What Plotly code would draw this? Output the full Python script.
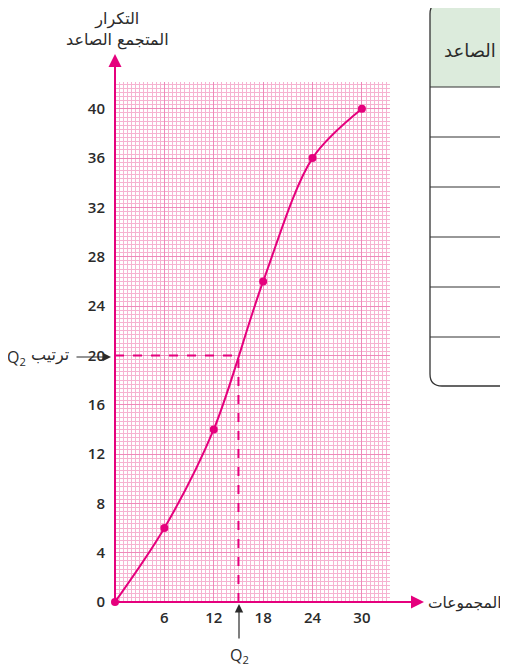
import plotly.graph_objects as go

# ---- data ----
upper_bounds = [0, 6, 12, 18, 24, 30]
cum_freq = [0, 6, 14, 26, 36, 40]
x_ticks = [6, 12, 18, 24, 30]
y_ticks = [0, 4, 8, 12, 16, 20, 24, 28, 32, 36, 40]
q2_rank = 20
q2_value = 15

MAG = "#e5007d"
DARK = "#2b2b2b"
OFF = 8  # default body margin of the html page
W, H = 508 - OFF, 669 - OFF
# plot area in page pixels
L, R, T, B = 115, 390, 82, 602


def xp(px):
    return (px - L) / (R - L)


def yp(py):
    return (B - py) / (B - T)


fig = go.Figure()

fig.add_trace(go.Scatter(
    x=upper_bounds, y=cum_freq, mode="lines+markers",
    line=dict(color=MAG, width=2, shape="spline", smoothing=0.9),
    marker=dict(color=MAG, size=8),
    cliponaxis=False, hoverinfo="skip", showlegend=False,
))

shapes = []
shapes.append(dict(type="line", xref="x", yref="y", x0=0, x1=q2_value, y0=q2_rank, y1=q2_rank,
                   line=dict(color=MAG, width=2, dash="dash")))
shapes.append(dict(type="line", xref="x", yref="y", x0=q2_value, x1=q2_value, y0=0, y1=q2_rank,
                   line=dict(color=MAG, width=2, dash="dash")))

# table on the right (rounded, clipped by page edge)
tl, tr, tt, tb, rad = 430, 530, 2, 386, 12


def P(px, py):
    return f"{xp(px):.5f},{yp(py):.5f}"


hdr_b = 87
header_path = (f"M {P(tl, hdr_b)} L {P(tl, tt + rad)} Q {P(tl, tt)} {P(tl + rad, tt)} "
               f"L {P(tr, tt)} L {P(tr, hdr_b)} Z")
shapes.append(dict(type="path", xref="paper", yref="paper", path=header_path,
                   fillcolor="#dcebdc", line=dict(width=0), layer="below"))
outline = (f"M {P(tr, tt)} L {P(tl + rad, tt)} Q {P(tl, tt)} {P(tl, tt + rad)} "
           f"L {P(tl, tb - rad)} Q {P(tl, tb)} {P(tl + rad, tb)} L {P(tr, tb)}")
shapes.append(dict(type="path", xref="paper", yref="paper", path=outline,
                   line=dict(color="#333333", width=1.3)))
for ry in [87, 137, 187, 237, 287, 337]:
    shapes.append(dict(type="line", xref="paper", yref="paper", x0=xp(tl), x1=xp(tr),
                       y0=yp(ry), y1=yp(ry), line=dict(color="#333333", width=1.2)))

annotations = []
annotations.append(dict(xref="paper", yref="paper", x=xp(115), y=yp(54), ax=0, ay=548,
                        text="", showarrow=True, arrowhead=2, arrowsize=1.3, arrowwidth=2,
                        arrowcolor=MAG))
annotations.append(dict(xref="paper", yref="paper", x=xp(424), y=yp(602), ax=-309, ay=0,
                        text="", showarrow=True, arrowhead=2, arrowsize=1.3, arrowwidth=2,
                        arrowcolor=MAG))
annotations.append(dict(xref="paper", yref="paper", x=xp(111), y=yp(357), ax=-36, ay=0,
                        text="", showarrow=True, arrowhead=2, arrowsize=1.4, arrowwidth=1.2,
                        arrowcolor=DARK))
annotations.append(dict(xref="paper", yref="paper", x=xp(239), y=yp(604), ax=0, ay=36,
                        text="", showarrow=True, arrowhead=2, arrowsize=1.4, arrowwidth=1.2,
                        arrowcolor=DARK))

AR = "DejaVu Sans"
annotations.append(dict(xref="paper", yref="paper", x=xp(117), y=yp(30), text="التكرار<br>المتجمع الصاعد",
                        showarrow=False, font=dict(family=AR, size=16, color=DARK),
                        xanchor="center", yanchor="middle"))
annotations.append(dict(xref="paper", yref="paper", x=xp(426), y=yp(603), text="المجموعات",
                        showarrow=False, font=dict(family=AR, size=15.5, color=DARK),
                        xanchor="left", yanchor="middle"))
annotations.append(dict(xref="paper", yref="paper", x=xp(442), y=yp(50), text="الصاعد",
                        showarrow=False, font=dict(family=AR, size=18, color=DARK),
                        xanchor="left", yanchor="middle"))
annotations.append(dict(xref="paper", yref="paper", x=xp(71), y=yp(355), text="ترتيب",
                        showarrow=False, font=dict(family=AR, size=16, color=DARK),
                        xanchor="right", yanchor="middle"))
annotations.append(dict(xref="paper", yref="paper", x=xp(5), y=yp(357), text="Q<sub>2</sub>",
                        showarrow=False, font=dict(family="Open Sans", size=16, color=DARK),
                        xanchor="left", yanchor="middle"))
annotations.append(dict(xref="paper", yref="paper", x=xp(239), y=yp(655), text="Q<sub>2</sub>",
                        showarrow=False, font=dict(family="Open Sans", size=16, color=DARK),
                        xanchor="center", yanchor="middle"))

TF = dict(family="Open Sans", size=15, color=DARK, weight=600)
fig.update_layout(
    width=W, height=H,
    margin=dict(l=L - OFF, r=W - (R - OFF), t=T - OFF, b=H - (B - OFF), pad=0),
    paper_bgcolor="white", plot_bgcolor="white",
    shapes=shapes, annotations=annotations,
    font=dict(family="Open Sans", size=15, color=DARK),
    xaxis=dict(range=[0, (R - L) / 8.23], tickvals=x_ticks, ticktext=[str(v) for v in x_ticks],
               showgrid=True, gridcolor="#ee8abb", gridwidth=1.2,
               minor=dict(dtick=0.5, tick0=0, showgrid=True, gridcolor="#f6b3d1", gridwidth=1),
               zeroline=False, showline=False, ticks="", ticklabelstandoff=5,
               tickfont=TF, fixedrange=True),
    yaxis=dict(range=[0, (B - T) / 12.33], tickvals=y_ticks, ticktext=[str(v) for v in y_ticks],
               showgrid=True, gridcolor="#ee8abb", gridwidth=1.2,
               minor=dict(dtick=1 / 3, tick0=0, showgrid=True, gridcolor="#f6b3d1", gridwidth=1),
               zeroline=False, showline=False, ticks="", ticklabelstandoff=9,
               tickfont=TF, fixedrange=True),
)

fig.write_html("out.html")
